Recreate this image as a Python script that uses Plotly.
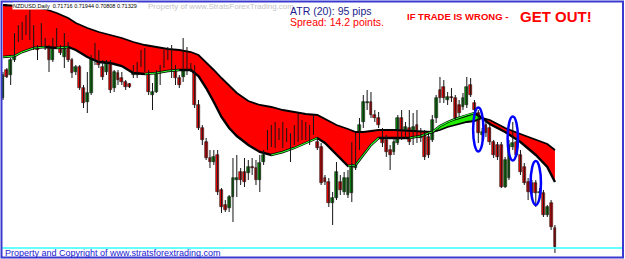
import plotly.graph_objects as go

# ---------------- data (NZDUSD daily) ----------------
opens = [0.7202,0.7230,0.7225,0.7240,0.7260,0.7272,0.7278,0.7268,0.7270,0.7252,
         0.7256,0.7260,0.7253,0.7240,0.7255,0.7253,0.7243,0.7255,0.7240,0.7228,
         0.7233,0.7212,0.7198,0.7207,0.7244,0.7242,0.7233,0.7228,0.7237,0.7212,
         0.7227,0.7222,0.7218,0.7216,0.7225,0.7225,0.7235,0.7245,0.7227,0.7205,
         0.7208,0.7227,0.7233,0.7248,0.7250,0.7233,0.7222,0.7223,0.7232,0.7233,
         0.7232,0.7195,0.7172,0.7158,0.7142,0.7138,0.7145,0.7110,0.7095,0.7092,
         0.7103,0.7120,0.7128,0.7128,0.7127,0.7133,0.7132,0.7120,0.7138,0.7152,
         0.7157,0.7163,0.7167,0.7172,0.7165,0.7163,0.7158,0.7172,0.7165,0.7162,
         0.7170,0.7170,0.7158,0.7153,0.7122,0.7118,0.7097,0.7102,0.7118,0.7108,
         0.7105,0.7107,0.7132,0.7152,0.7178,0.7197,0.7198,0.7185,0.7182,0.7168,
         0.7160,0.7150,0.7148,0.7157,0.7182,0.7165,0.7172,0.7168,0.7175,0.7162,
         0.7165,0.7163,0.7160,0.7182,0.7210,0.7213,0.7200,0.7203,0.7202,0.7195,
         0.7193,0.7195,0.7215,0.7197,0.7187,0.7165,0.7175,0.7172,0.7158,0.7155,
         0.7155,0.7113,0.7122,0.7153,0.7158,0.7145,0.7133,0.7118,0.7117,0.7117,
         0.7107,0.7107,0.7085,0.7097,0.7072]
highs = [0.7228,0.7232,0.7242,0.7267,0.7275,0.7278,0.7285,0.7290,0.7275,0.7255,
         0.7277,0.7262,0.7255,0.7262,0.7272,0.7255,0.7267,0.7258,0.7242,0.7235,
         0.7235,0.7215,0.7228,0.7245,0.7257,0.7250,0.7240,0.7240,0.7240,0.7230,
         0.7230,0.7228,0.7220,0.7217,0.7235,0.7238,0.7250,0.7252,0.7230,0.7217,
         0.7230,0.7235,0.7250,0.7253,0.7255,0.7235,0.7225,0.7262,0.7253,0.7237,
         0.7235,0.7200,0.7175,0.7162,0.7150,0.7150,0.7150,0.7112,0.7100,0.7105,
         0.7142,0.7145,0.7132,0.7142,0.7140,0.7142,0.7140,0.7145,0.7150,0.7170,
         0.7175,0.7178,0.7172,0.7178,0.7172,0.7167,0.7175,0.7187,0.7180,0.7178,
         0.7175,0.7185,0.7162,0.7157,0.7125,0.7122,0.7108,0.7138,0.7125,0.7128,
         0.7130,0.7158,0.7167,0.7182,0.7205,0.7210,0.7208,0.7190,0.7188,0.7172,
         0.7165,0.7155,0.7162,0.7185,0.7190,0.7178,0.7190,0.7187,0.7190,0.7172,
         0.7170,0.7167,0.7185,0.7205,0.7223,0.7220,0.7208,0.7212,0.7205,0.7200,
         0.7207,0.7223,0.7222,0.7200,0.7190,0.7172,0.7180,0.7175,0.7160,0.7158,
         0.7158,0.7143,0.7160,0.7178,0.7162,0.7150,0.7137,0.7122,0.7120,0.7120,
         0.7112,0.7110,0.7095,0.7100,0.7075]
lows = [0.7200,0.7222,0.7215,0.7238,0.7258,0.7260,0.7265,0.7260,0.7250,0.7240,
        0.7253,0.7250,0.7228,0.7238,0.7253,0.7245,0.7232,0.7238,0.7222,0.7225,
        0.7210,0.7192,0.7187,0.7205,0.7235,0.7232,0.7220,0.7225,0.7207,0.7208,
        0.7215,0.7215,0.7210,0.7212,0.7222,0.7222,0.7233,0.7228,0.7205,0.7190,
        0.7207,0.7215,0.7232,0.7240,0.7222,0.7215,0.7212,0.7218,0.7225,0.7228,
        0.7192,0.7170,0.7155,0.7140,0.7132,0.7135,0.7105,0.7087,0.7088,0.7088,
        0.7078,0.7103,0.7115,0.7113,0.7120,0.7125,0.7115,0.7108,0.7135,0.7150,
        0.7153,0.7152,0.7160,0.7152,0.7158,0.7138,0.7155,0.7158,0.7160,0.7160,
        0.7155,0.7165,0.7150,0.7115,0.7115,0.7093,0.7075,0.7100,0.7105,0.7105,
        0.7102,0.7098,0.7130,0.7150,0.7172,0.7190,0.7182,0.7178,0.7172,0.7153,
        0.7143,0.7130,0.7145,0.7155,0.7160,0.7162,0.7155,0.7155,0.7157,0.7158,
        0.7140,0.7142,0.7158,0.7177,0.7197,0.7197,0.7195,0.7198,0.7180,0.7183,
        0.7190,0.7192,0.7203,0.7187,0.7157,0.7160,0.7163,0.7155,0.7142,0.7140,
        0.7112,0.7112,0.7120,0.7150,0.7143,0.7125,0.7115,0.7100,0.7105,0.7093,
        0.7105,0.7083,0.7083,0.7070,0.7047]
closes = [0.7225,0.7223,0.7240,0.7258,0.7267,0.7265,0.7267,0.7272,0.7252,0.7250,
          0.7259,0.7252,0.7240,0.7255,0.7258,0.7247,0.7253,0.7240,0.7227,0.7233,
          0.7212,0.7197,0.7207,0.7242,0.7242,0.7235,0.7223,0.7237,0.7210,0.7228,
          0.7220,0.7218,0.7213,0.7213,0.7233,0.7235,0.7245,0.7235,0.7208,0.7208,
          0.7227,0.7232,0.7245,0.7245,0.7233,0.7222,0.7215,0.7243,0.7240,0.7230,
          0.7195,0.7172,0.7160,0.7142,0.7138,0.7143,0.7108,0.7093,0.7090,0.7103,
          0.7122,0.7122,0.7120,0.7118,0.7133,0.7132,0.7120,0.7137,0.7145,0.7165,
          0.7168,0.7172,0.7162,0.7162,0.7164,0.7157,0.7172,0.7167,0.7175,0.7173,
          0.7158,0.7180,0.7152,0.7117,0.7118,0.7097,0.7102,0.7128,0.7110,0.7122,
          0.7122,0.7152,0.7152,0.7175,0.7198,0.7198,0.7185,0.7182,0.7175,0.7157,
          0.7148,0.7145,0.7158,0.7182,0.7168,0.7173,0.7158,0.7173,0.7163,0.7167,
          0.7143,0.7145,0.7180,0.7202,0.7202,0.7202,0.7203,0.7202,0.7182,0.7187,
          0.7202,0.7213,0.7205,0.7190,0.7167,0.7168,0.7167,0.7158,0.7145,0.7143,
          0.7113,0.7140,0.7155,0.7157,0.7145,0.7128,0.7117,0.7108,0.7107,0.7107,
          0.7108,0.7085,0.7093,0.7073,0.7053]

# moving-average ribbon (bar index, slow MA, fast MA)
ma_idx = [0,3,5,8,11,14,17,19,22,25,28,31,34,37,40,43,46,49,51,53,
          55,57,59,61,64,67,70,73,76,79,82,84,87,90,92,94,96,98,102,106,
          109,111,112,114,116,118,121,123,125,127,131,135,139,142,144]
ma_slow = [0.7295,0.7294,0.7294,0.7293,0.7291,0.7287,0.7282,0.7277,0.7272,0.7268,
           0.7265,0.7262,0.7258,0.7255,0.7253,0.7251,0.7250,0.7248,0.7245,0.7238,
           0.7230,0.7222,0.7214,0.7207,0.7199,0.7195,0.7193,0.7190,0.7188,0.7186,
           0.7185,0.7181,0.7175,0.7171,0.7168,0.7168,0.7169,0.7170,0.7170,0.7169,
           0.7168,0.7168,0.7168,0.7170,0.7173,0.7175,0.7178,0.7179,0.7182,0.7180,
           0.7172,0.7166,0.7160,0.7156,0.7150]
ma_fast = [0.7243,0.7244,0.7248,0.7252,0.7253,0.7252,0.7253,0.7250,0.7243,0.7238,
           0.7237,0.7234,0.7227,0.7226,0.7227,0.7229,0.7230,0.7230,0.7224,0.7212,
           0.7198,0.7183,0.7172,0.7164,0.7155,0.7148,0.7145,0.7148,0.7152,0.7157,
           0.7162,0.7157,0.7145,0.7134,0.7135,0.7145,0.7155,0.7162,0.7162,0.7162,
           0.7164,0.7167,0.7168,0.7174,0.7178,0.7181,0.7185,0.7187,0.7182,0.7176,
           0.7168,0.7158,0.7145,0.7133,0.7118]

# circled "get out" signals
signal_idx = [124, 133, 139]
signal_price = [0.71705, 0.71615, 0.7117]

# ---------------- figure ----------------
W, H = 625, 259
bars = list(range(len(opens)))
fig = go.Figure()

# red ribbon
fig.add_trace(go.Scatter(x=ma_idx, y=ma_slow, mode="lines", line=dict(width=0),
                         hoverinfo="skip", showlegend=False))
fig.add_trace(go.Scatter(x=ma_idx, y=ma_fast, mode="lines", fill="tonexty", fillcolor="#ff0000",
                         line=dict(width=0), hoverinfo="skip", showlegend=False))

# green ribbon where fast above slow
runs, cur = [], []
for k in range(len(ma_idx)):
    if ma_fast[k] >= ma_slow[k]:
        cur.append(k)
    else:
        if len(cur) > 1:
            runs.append(cur)
        cur = []
if len(cur) > 1:
    runs.append(cur)
for r in runs:
    fig.add_trace(go.Scatter(x=[ma_idx[k] for k in r], y=[ma_slow[k] for k in r], mode="lines",
                             line=dict(width=0), hoverinfo="skip", showlegend=False))
    fig.add_trace(go.Scatter(x=[ma_idx[k] for k in r], y=[ma_fast[k] for k in r], mode="lines",
                             fill="tonexty", fillcolor="#22ee00", line=dict(width=0),
                             hoverinfo="skip", showlegend=False))

# ribbon edges
fig.add_trace(go.Scatter(x=ma_idx, y=ma_slow, mode="lines", line=dict(color="black", width=1.8),
                         hoverinfo="skip", showlegend=False))
fig.add_trace(go.Scatter(x=ma_idx, y=ma_fast, mode="lines", line=dict(color="black", width=2.4),
                         hoverinfo="skip", showlegend=False))
gx, gy = [], []
for k in range(len(ma_idx) - 1):
    if ma_fast[k + 1] > ma_fast[k]:
        gx += [ma_idx[k], ma_idx[k + 1], None]
        gy += [ma_fast[k], ma_fast[k + 1], None]
fig.add_trace(go.Scatter(x=gx, y=gy, mode="lines", line=dict(color="#33ff33", width=1.1),
                         hoverinfo="skip", showlegend=False))

# candles: wicks + bodies
wx, wy = [], []
for i in bars:
    wx += [i, i, None]
    wy += [highs[i], lows[i], None]
fig.add_trace(go.Scatter(x=wx, y=wy, mode="lines", line=dict(color="#151515", width=1),
                         hoverinfo="skip", showlegend=False))
body_base = [min(o, c) for o, c in zip(opens, closes)]
body_len = [max(abs(c - o), 0.00008) for o, c in zip(opens, closes)]
body_col = ["#0a8c0a" if c >= o else "#ff0000" for o, c in zip(opens, closes)]
fig.add_trace(go.Bar(x=bars, y=body_len, base=body_base, width=0.74,
                     marker=dict(color=body_col, line=dict(color="#151515", width=0.6)),
                     hoverinfo="skip", showlegend=False))

# ellipses around signals
shapes = []
for xi, yp in zip(signal_idx, signal_price):
    shapes.append(dict(type="circle", xref="x", yref="y",
                       x0=xi - 1.35, x1=xi + 1.35, y0=yp - 0.0022, y1=yp + 0.0022,
                       line=dict(color="#0000ff", width=2.5)))
# cyan horizontal line and blue frame
shapes.append(dict(type="line", xref="paper", yref="paper", x0=2 / W, x1=622 / W,
                   y0=1 - 248 / H, y1=1 - 248 / H, line=dict(color="#33ffff", width=1.5)))
shapes.append(dict(type="rect", xref="paper", yref="paper", x0=1.5 / W, x1=623 / W,
                   y0=1 - 257.5 / H, y1=1 - 1.5 / H, line=dict(color="#3a3ad0", width=2)))

ann = []
def txt(text, px, py, size, color, bold=False, bg=None, anchor="left"):
    ann.append(dict(text=("<b>%s</b>" % text) if bold else text, x=px / W, y=1 - py / H,
                    xref="paper", yref="paper", xanchor=anchor, yanchor="middle",
                    showarrow=False, font=dict(family="Arial, Liberation Sans", size=size, color=color),
                    bgcolor=bg, borderpad=0))

txt("NZDUSD,Daily  0.71716 0.71944 0.70808 0.71329", 12, 6, 5.5, "black", bg="white")
txt("▼", 2, 5, 5, "black")
txt("Property of www.StratsForexTrading.com", 147, 6.5, 8, "#c4c4c4")
txt("ATR (20): 95 pips", 289, 10.5, 10.5, "#1c1c8c")
txt("Spread: 14.2 points.", 289, 21.8, 10.5, "#ff0000")
txt("IF TRADE IS WRONG - ", 406, 17, 9.5, "#ff0000", bold=True)
txt("GET OUT!", 519, 16.5, 15, "#ff0000", bold=True)
txt("Property and Copyright of www.stratsforextrading.com", 4, 253, 9, "#2020d0")

x_step = 3.833
fig.update_layout(
    width=W, height=H, margin=dict(l=0, r=0, t=0, b=0),
    paper_bgcolor="white", plot_bgcolor="white", bargap=0,
    xaxis=dict(range=[-3 / x_step, (W - 3) / x_step], visible=False),
    yaxis=dict(range=[0.7300 - H / 10000, 0.7300], visible=False),
    shapes=shapes, annotations=ann, showlegend=False,
)
fig.write_html("out.html")
